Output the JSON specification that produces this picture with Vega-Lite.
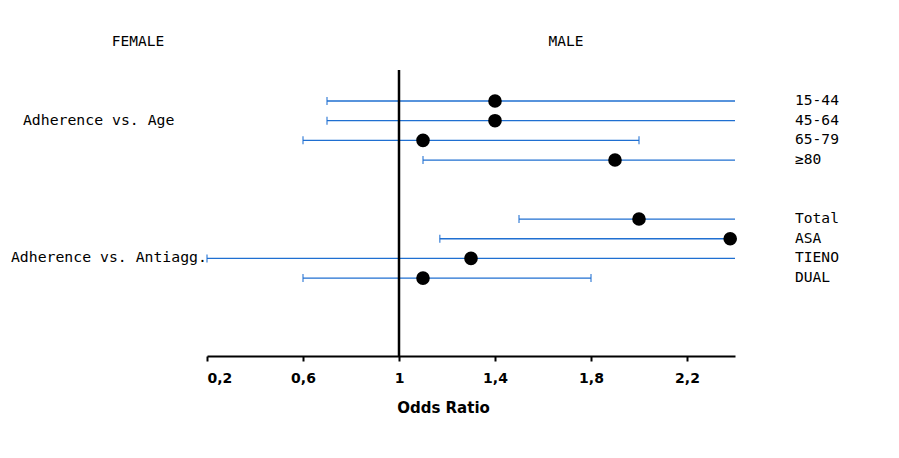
{
  "$schema": "https://vega.github.io/schema/vega-lite/v6.json",
  "width": 528,
  "height": 286,
  "autosize": {"type": "none"},
  "padding": {"left": 207, "top": 70, "right": 164, "bottom": 102},
  "background": "white",
  "config": {"view": {"stroke": null}},
  "datasets": {
    "rows": [
      {"label": "15-44", "pos": 0, "or": 1.4, "lo": 0.7, "hi": 2.8},
      {"label": "45-64", "pos": 1, "or": 1.4, "lo": 0.7, "hi": 2.8},
      {"label": "65-79", "pos": 2, "or": 1.1, "lo": 0.6, "hi": 2.0},
      {"label": "≥80", "pos": 3, "or": 1.9, "lo": 1.1, "hi": 3.2},
      {"label": "Total", "pos": 6, "or": 2.0, "lo": 1.5, "hi": 2.7},
      {"label": "ASA", "pos": 7, "or": 2.38, "lo": 1.17, "hi": 4.8},
      {"label": "TIENO", "pos": 8, "or": 1.3, "lo": 0.2, "hi": 8.0},
      {"label": "DUAL", "pos": 9, "or": 1.1, "lo": 0.6, "hi": 1.8}
    ],
    "groups": [
      {"text": "FEMALE", "x": -0.0875, "pos": -3, "align": "center"},
      {"text": "MALE", "x": 1.696, "pos": -3, "align": "center"},
      {"text": "Adherence vs. Age", "x": -0.567, "pos": 1, "align": "left"},
      {"text": "Adherence vs. Antiagg.", "x": -0.617, "pos": 8, "align": "left"}
    ]
  },
  "layer": [
    {
      "data": {"name": "rows"},
      "mark": {"type": "rule", "color": "#1f6fd1", "strokeWidth": 1.3, "clip": true},
      "encoding": {
        "x": {
          "field": "lo", "type": "quantitative",
          "scale": {"domain": [0.2, 2.4], "nice": false, "zero": false},
          "axis": {
            "values": [0.2, 0.6, 1, 1.4, 1.8, 2.2],
            "labelExpr": "replace(format(datum.value, ''), '.', ',')",
            "title": "Odds Ratio",
            "grid": false,
            "domainColor": "black", "domainWidth": 2,
            "tickColor": "black", "tickWidth": 2, "tickSize": 5,
            "labelFont": "DejaVu Sans", "labelFontWeight": "bold", "labelFontSize": 14,
            "labelColor": "black", "labelPadding": 10,
            "titleFont": "DejaVu Sans", "titleFontWeight": "bold", "titleFontSize": 15,
            "titleColor": "black",
            "titleX": 236, "titleY": 51, "titleAlign": "center", "titleBaseline": "middle"
          }
        },
        "x2": {"field": "hi"},
        "y": {
          "field": "pos", "type": "quantitative",
          "scale": {"domain": [-1.576, 12.96], "reverse": true, "nice": false, "zero": false},
          "axis": null
        }
      }
    },
    {
      "data": {"name": "rows"},
      "mark": {"type": "tick", "orient": "vertical", "color": "#1f6fd1", "size": 8, "thickness": 1.5},
      "encoding": {
        "x": {"field": "lo", "type": "quantitative"},
        "y": {"field": "pos", "type": "quantitative"}
      }
    },
    {
      "data": {"name": "rows"},
      "mark": {"type": "tick", "orient": "vertical", "color": "#1f6fd1", "size": 8, "thickness": 1.5, "clip": true},
      "encoding": {
        "x": {"field": "hi", "type": "quantitative"},
        "y": {"field": "pos", "type": "quantitative"}
      }
    },
    {
      "data": {"values": [{"v": 1}]},
      "mark": {"type": "rule", "color": "black", "strokeWidth": 2.5},
      "encoding": {"x": {"field": "v", "type": "quantitative"}}
    },
    {
      "data": {"name": "rows"},
      "mark": {"type": "circle", "color": "black", "opacity": 1, "size": 185},
      "encoding": {
        "x": {"field": "or", "type": "quantitative"},
        "y": {"field": "pos", "type": "quantitative"}
      }
    },
    {
      "data": {"name": "rows"},
      "mark": {"type": "text", "align": "left", "baseline": "middle", "font": "DejaVu Sans Mono", "fontSize": 14.6, "color": "black"},
      "encoding": {
        "x": {"datum": 2.65, "type": "quantitative"},
        "y": {"field": "pos", "type": "quantitative"},
        "text": {"field": "label"}
      }
    },
    {
      "data": {"name": "groups"},
      "transform": [{"filter": "datum.align == 'left'"}],
      "mark": {"type": "text", "align": "left", "baseline": "middle", "font": "DejaVu Sans Mono", "fontSize": 14.8, "color": "black"},
      "encoding": {
        "x": {"field": "x", "type": "quantitative"},
        "y": {"field": "pos", "type": "quantitative"},
        "text": {"field": "text"}
      }
    },
    {
      "data": {"name": "groups"},
      "transform": [{"filter": "datum.align == 'center'"}],
      "mark": {"type": "text", "align": "center", "baseline": "middle", "font": "DejaVu Sans Mono", "fontSize": 14.5, "color": "black"},
      "encoding": {
        "x": {"field": "x", "type": "quantitative"},
        "y": {"field": "pos", "type": "quantitative"},
        "text": {"field": "text"}
      }
    }
  ]
}
